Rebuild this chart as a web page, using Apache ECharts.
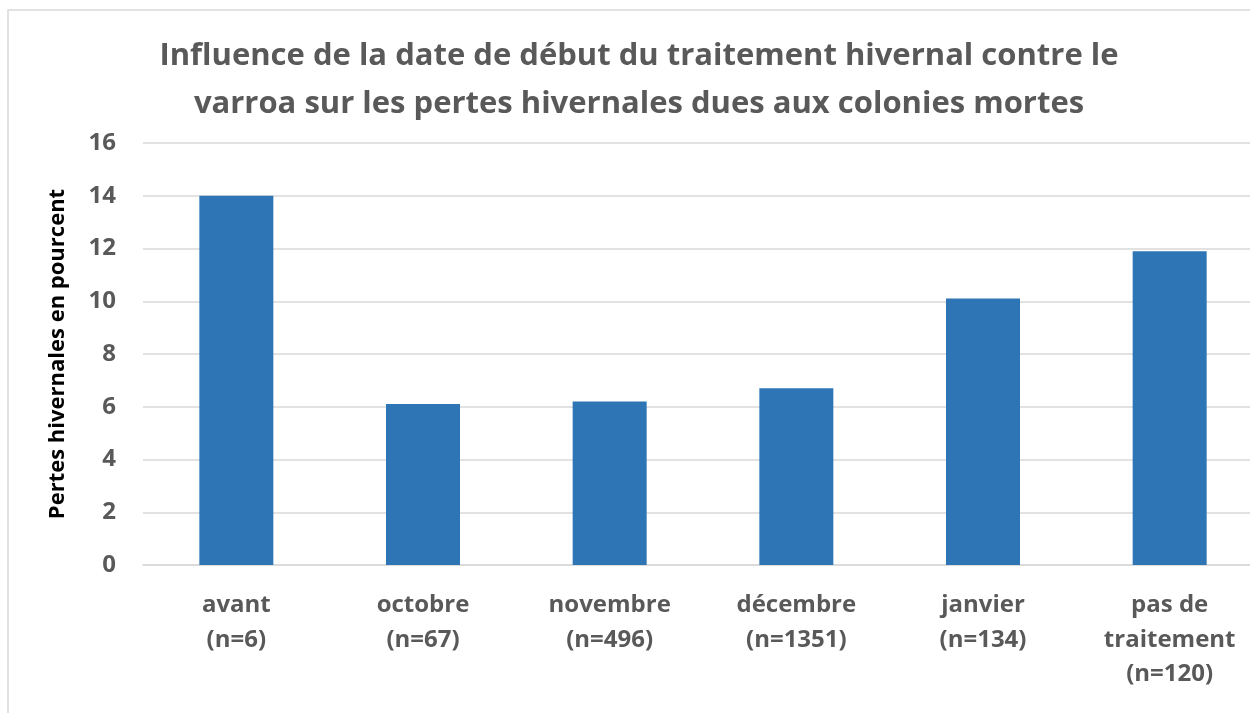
<!DOCTYPE html>
<html>
<head>
<meta charset="utf-8">
<script src="https://cdn.jsdelivr.net/npm/echarts@6/dist/echarts.min.js"></script>
<style>
  html, body { margin: 0; padding: 0; background: #fff; }
  #main { width: 1250px; height: 713px; }
</style>
</head>
<body>
<div id="main"></div>
<script>
// données
var categories = ['avant\n(n=6)', 'octobre\n(n=67)', 'novembre\n(n=496)', 'décembre\n(n=1351)', 'janvier\n(n=134)', 'pas de\ntraitement\n(n=120)'];
var pertes = [14, 6.1, 6.2, 6.7, 10.1, 11.9];

var titleText = 'Influence de la date de début du traitement hivernal contre le\nvarroa sur les pertes hivernales dues aux colonies mortes';
var yName = 'Pertes hivernales en pourcent';

var myChart = echarts.init(document.getElementById('main'));
myChart.setOption({
    animation: false,
    textStyle: { fontFamily: 'Open Sans' },
    title: {
        text: titleText,
        left: 634,
        textAlign: 'center',
        top: 27,
        textStyle: {
            fontFamily: 'Open Sans',
            fontSize: 31,
            fontWeight: 'bold',
            color: '#595959',
            lineHeight: 48
        }
    },
    // cadre de la zone du graphique (comme Excel)
    graphic: [{
        type: 'rect',
        shape: { x: 8, y: 10, width: 1300, height: 800 },
        style: { fill: 'none', stroke: '#d9d9d9', lineWidth: 1.5 },
        silent: true
    }],
    grid: {
        left: 143,
        width: 1120,
        top: 143,
        bottom: 148,
        outerBoundsMode: 'none'
    },
    xAxis: {
        type: 'category',
        data: categories,
        axisLine: { show: true, lineStyle: { color: '#d9d9d9', width: 1.5 } },
        axisTick: { show: false },
        axisLabel: {
            interval: 0,
            margin: 23,
            fontSize: 24,
            fontWeight: 'bold',
            color: '#595959',
            lineHeight: 34.5
        }
    },
    yAxis: {
        type: 'value',
        min: 0,
        max: 16,
        interval: 2,
        name: yName,
        nameLocation: 'middle',
        nameGap: 74,
        nameRotate: 90,
        nameTextStyle: {
            fontSize: 22,
            fontWeight: 'bold',
            color: '#000'
        },
        axisLine: { show: false },
        axisTick: { show: false },
        axisLabel: {
            margin: 27,
            fontSize: 24,
            fontWeight: 'bold',
            color: '#595959'
        },
        splitLine: { lineStyle: { color: '#d9d9d9', width: 1.5 } }
    },
    series: [{
        type: 'bar',
        data: pertes,
        barWidth: 74,
        itemStyle: { color: '#2E75B6' }
    }]
});
</script>
</body>
</html>
